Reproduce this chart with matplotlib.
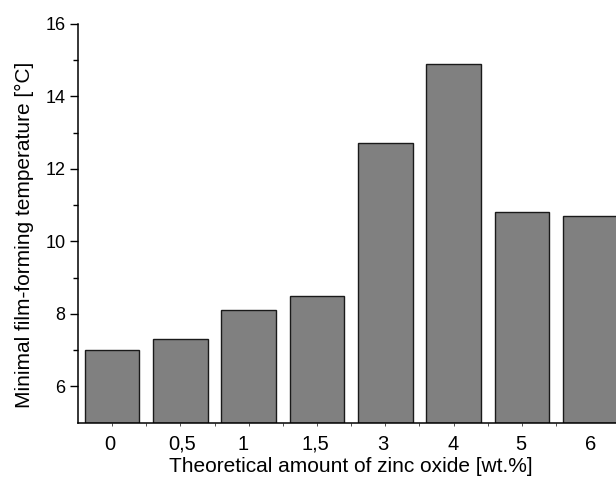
import matplotlib
matplotlib.use("Agg")
import matplotlib.pyplot as plt
import numpy as np

categories = ["0", "0,5", "1", "1,5", "3", "4", "5", "6"]
mfft = [7.0, 7.3, 8.1, 8.5, 12.7, 14.9, 10.8, 10.7]
label_shift = [-0.04, 0.03, -0.09, -0.02, -0.04, -0.01, -0.01, 0.0]

plt.rcParams['font.family'] = ['Liberation Sans', 'DejaVu Sans']

fig = plt.figure(figsize=(6.16, 4.79), dpi=100)
ax = fig.add_axes([78/616, 56.3/479, 546.4/616, 399/479])

x = np.arange(len(categories))
ax.bar(x, [v - 5 for v in mfft], bottom=5, width=0.8, color="#808080",
       edgecolor="#1a1a1a", linewidth=1.0)

ax.set_xlim(-0.5, len(categories) - 0.5)
ax.set_ylim(5, 16)
ax.set_yticks([6, 8, 10, 12, 14, 16])
ax.set_yticks([7, 9, 11, 13, 15], minor=True)

ax.set_xticks(x + np.array(label_shift))
ax.set_xticklabels(categories)
ax.set_xticks(np.concatenate([x, x[:-1] + 0.5]), minor=True)
ax.tick_params(axis='x', which='major', length=0, pad=8.5, labelsize=14.5)
ax.tick_params(axis='x', which='minor', length=2, width=0.6, color="#333333")
ax.tick_params(axis='y', which='major', length=6, width=1, labelsize=13, pad=3)
ax.tick_params(axis='y', which='minor', length=3.5, width=1)

ax.spines['top'].set_visible(False)
ax.spines['right'].set_visible(False)
for s in ['left', 'bottom']:
    ax.spines[s].set_linewidth(1.1)

ax.set_xlabel("Theoretical amount of zinc oxide [wt.%]", fontsize=15, labelpad=2.5)
ax.set_ylabel("Minimal film-forming temperature [°C]", fontsize=15)
ax.yaxis.set_label_coords(-0.08, 0.47)

fig.savefig("out.png", dpi=100)
